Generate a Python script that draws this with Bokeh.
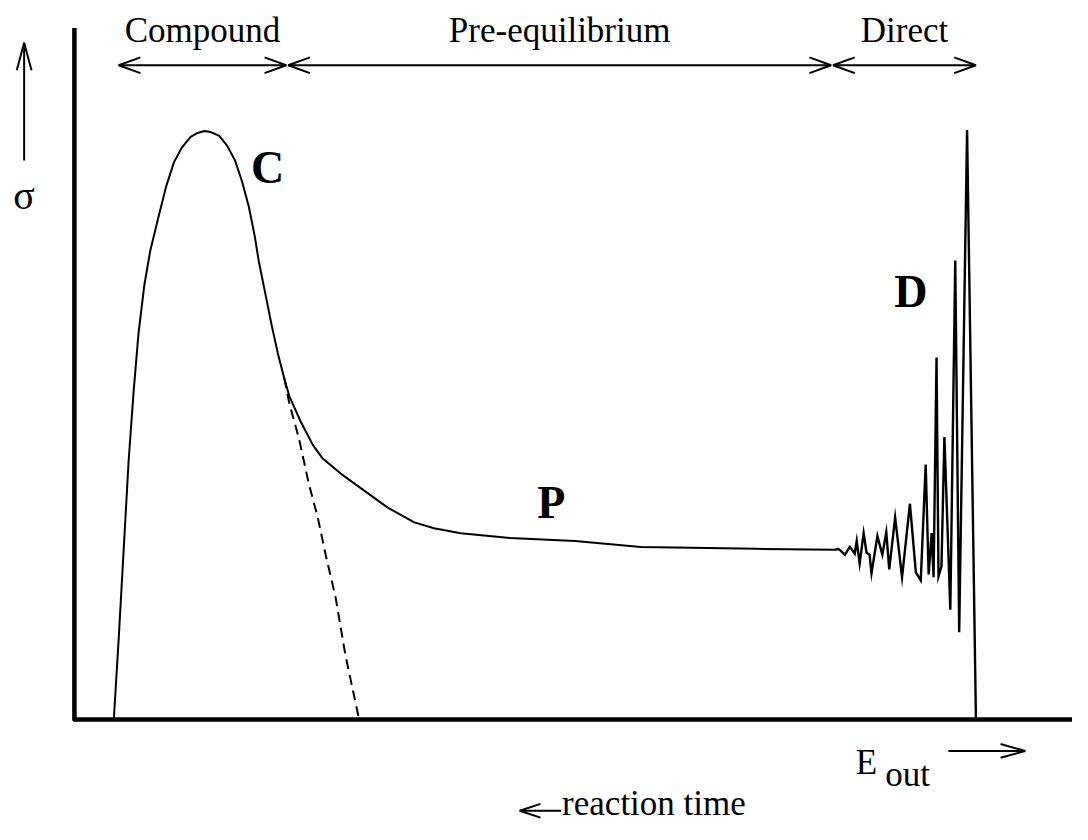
from bokeh.plotting import figure
from bokeh.models import Range1d
from bokeh.core.properties import value
from bokeh.embed import file_html
from bokeh.resources import INLINE

# ---- data (schematic units: E_out along x, sigma along y) ----
curve_x = [40, 45, 50, 55, 60, 65, 71, 77, 85, 93, 101, 109, 118, 125, 132, 138, 147, 155,
           163, 170, 177, 183, 187, 193, 200, 207, 213, 218, 230, 242, 252, 270, 285, 318,
           345, 365, 392, 442, 508, 575, 625, 692, 772]
curve_y = [0, 83, 173, 263, 333, 393, 443, 478, 511, 543, 568, 583, 594, 598, 600, 599, 595, 585,
           570, 549, 523, 493, 468, 438, 403, 371, 348, 330, 303, 280, 266, 251, 240, 216,
           201, 195, 190, 185, 182, 176, 175, 174, 173]

direct_x = [772, 775, 778, 782, 787, 792, 794, 797, 801, 804, 807, 809, 815, 820, 824, 827, 833,
            840, 848, 854, 859, 864, 867, 870, 872, 875, 877, 880, 883, 889, 894, 898, 906, 915]
direct_y = [173, 174, 172, 168, 176, 169, 182, 159, 190, 170, 168, 149, 187, 168, 191, 153, 206,
            145, 220, 150, 142, 260, 148, 190, 145, 369, 146, 156, 288, 112, 468, 89, 601, 0]

compound_x = [213, 218, 228, 238, 247, 255, 265, 275, 289]
compound_y = [348, 323, 286, 240, 206, 168, 125, 66, 0]

regions = ["Compound", "Pre-equilibrium", "Direct"]
region_start = [45, 217, 770]
region_end = [215, 768, 915]

labels = ["C", "P", "D"]
label_x = [196, 484, 849]
label_y = [563, 221, 436]

FONT = value("Liberation Serif")

p = figure(width=1072, height=824, output_backend="svg", toolbar_location=None,
           x_range=Range1d(-75, 1013), y_range=Range1d(-107, 733), min_border=0)
p.axis.visible = False
p.grid.visible = False
p.outline_line_color = None
p.background_fill_color = "white"
p.border_fill_color = "white"


def arrow_lines(x0, y0, x1, y1, head_end=True, head_start=False, L=22, W=8):
    xs, ys = [[x0, x1]], [[y0, y1]]
    dx, dy = x1 - x0, y1 - y0
    n = (dx * dx + dy * dy) ** 0.5
    ux, uy = dx / n, dy / n
    px, py = -uy, ux
    if head_end:
        xs.append([x1 - L * ux + W * px, x1, x1 - L * ux - W * px])
        ys.append([y1 - L * uy + W * py, y1, y1 - L * uy - W * py])
    if head_start:
        xs.append([x0 + L * ux + W * px, x0, x0 + L * ux - W * px])
        ys.append([y0 + L * uy + W * py, y0, y0 + L * uy - W * py])
    return xs, ys


# axes
p.line([0, 0, 1013], [705, 0, 0], line_width=4.5, line_color="black", line_join="round")

# curves
p.line(curve_x, curve_y, line_width=2, line_color="black", line_join="round")
p.line(direct_x, direct_y, line_width=2.4, line_color="black", line_join="miter")
p.line(compound_x, compound_y, line_width=2, line_color="black", line_dash="10 6")

# arrows
axs, ays = [], []
for s, e in zip(region_start, region_end):
    xs, ys = arrow_lines(s, 667, e, 667, head_end=True, head_start=True, L=22, W=8)
    axs += xs
    ays += ys
xs, ys = arrow_lines(-51, 570, -51, 690, L=28, W=7.5)
axs += xs; ays += ys
xs, ys = arrow_lines(887, -32, 965, -32, L=25, W=7)
axs += xs; ays += ys
xs, ys = arrow_lines(494, -93, 452, -93, L=21, W=7)
axs += xs; ays += ys
p.multi_line(axs, ays, line_width=2, line_color="black")

# region titles
p.text(x=[(s + e) / 2 for s, e in zip(region_start, region_end)], y=[702] * 3, text=regions,
       text_font=FONT, text_font_size="35px", text_align="center", text_baseline="alphabetic",
       text_color="black")

# bold labels
p.text(x=label_x, y=label_y, text=labels, text_font=FONT, text_font_size="46px",
       text_font_style="bold", text_align="center", text_baseline="alphabetic", text_color="black")

# axis texts
p.text(x=[-51], y=[534], text=["σ"], text_font=FONT, text_font_size="40px",
       text_align="center", text_baseline="alphabetic", text_color="black")
p.text(x=[793], y=[-44], text=["E"], text_font=FONT, text_font_size="35px",
       text_align="left", text_baseline="alphabetic", text_color="black")
p.text(x=[823], y=[-56], text=["out"], text_font=FONT, text_font_size="35px",
       text_align="left", text_baseline="alphabetic", text_color="black")
p.text(x=[495], y=[-86], text=["reaction time"], text_font=FONT, text_font_size="35px",
       text_align="left", text_baseline="alphabetic", text_color="black")

open("out.html", "w").write(file_html(p, INLINE))
